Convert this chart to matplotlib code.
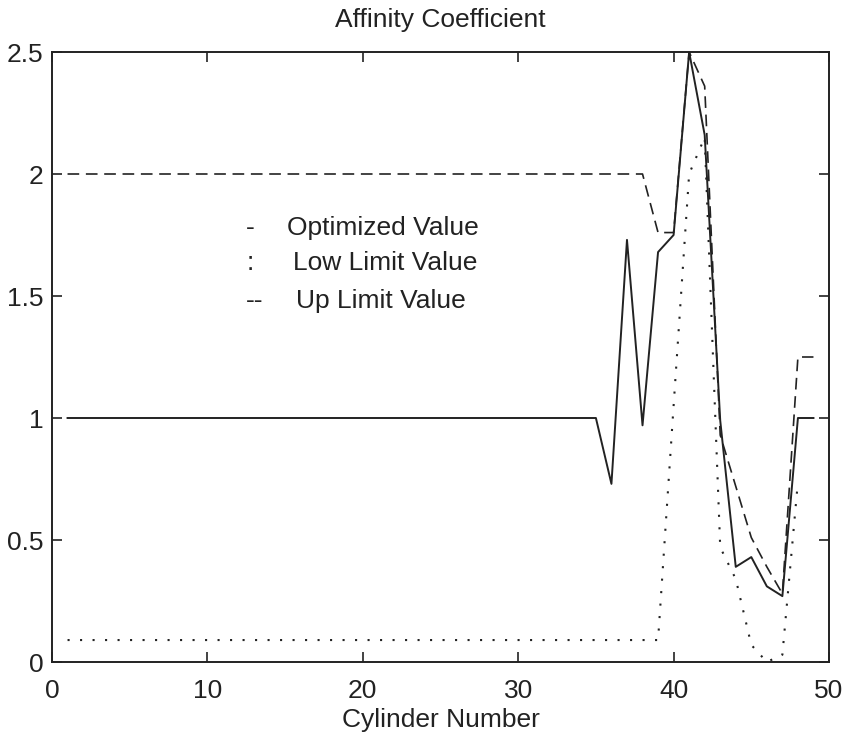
import matplotlib
matplotlib.use("Agg")
import matplotlib.pyplot as plt

plt.rcParams['font.family'] = ['Liberation Sans', 'DejaVu Sans']

# Cylinder numbers
cyl = list(range(1, 50))
cyl_low = list(range(1, 49))

# Optimized affinity coefficient per cylinder
optimized = [1.0] * 35 + [0.73, 1.73, 0.97, 1.68, 1.75, 2.5, 2.16, 0.99,
                          0.39, 0.43, 0.31, 0.27, 1.0, 1.0]

# Lower bound of the search range
low_limit = [0.09] * 39 + [1.05, 2.0, 2.15, 0.47, 0.34, 0.07, 0.0, 0.03, 0.74]

# Upper bound of the search range
up_limit = [2.0] * 38 + [1.76, 1.76, 2.5, 2.36, 0.93, 0.72, 0.51, 0.39,
                         0.28, 1.25, 1.25]

x_ticks = [0, 10, 20, 30, 40, 50]
y_ticks = [0, 0.5, 1, 1.5, 2, 2.5]
y_tick_labels = ['0', '0.5', '1', '1.5', '2', '2.5']

legend_entries = [('-', 'Optimized Value', 1.78, 15.1),
                  (':', 'Low Limit Value', 1.635, 15.5),
                  ('--', 'Up Limit Value', 1.48, 15.7)]

ink = '#222222'
fs = 19

fig = plt.figure(figsize=(8.43, 7.40), dpi=100)
ax = fig.add_axes([52 / 843, 1 - 662 / 740, (829 - 52) / 843, (662 - 52) / 740])

ax.plot(cyl, optimized, color=ink, lw=1.4, linestyle='-')
ax.plot(cyl_low, low_limit, color=ink, lw=1.5, linestyle=(0, (1, 5)))
ax.plot(cyl, up_limit, color=ink, lw=1.2, linestyle=(0, (7, 4)))

ax.set_xlim(0, 50)
ax.set_ylim(0, 2.5)
ax.set_xticks(x_ticks)
ax.set_yticks(y_ticks)
ax.set_yticklabels(y_tick_labels)
ax.tick_params(direction='in', length=7, width=1.2, top=True, right=True,
               labelsize=fs, colors=ink)
ax.tick_params(axis='x', pad=12)
ax.tick_params(axis='y', pad=6)
for side in ax.spines.values():
    side.set_linewidth(1.4)
    side.set_color(ink)

ax.set_title('Affinity Coefficient', fontsize=fs, color=ink, pad=18)
ax.set_xlabel('Cylinder Number', fontsize=fs, color=ink, labelpad=4)

for sym, label, yv, xl in legend_entries:
    ax.text(12.5, yv, sym, fontsize=fs, color=ink, ha='left', va='center')
    ax.text(xl, yv, label, fontsize=fs, color=ink, ha='left', va='center')

fig.savefig('out.png', dpi=100, facecolor='white')
